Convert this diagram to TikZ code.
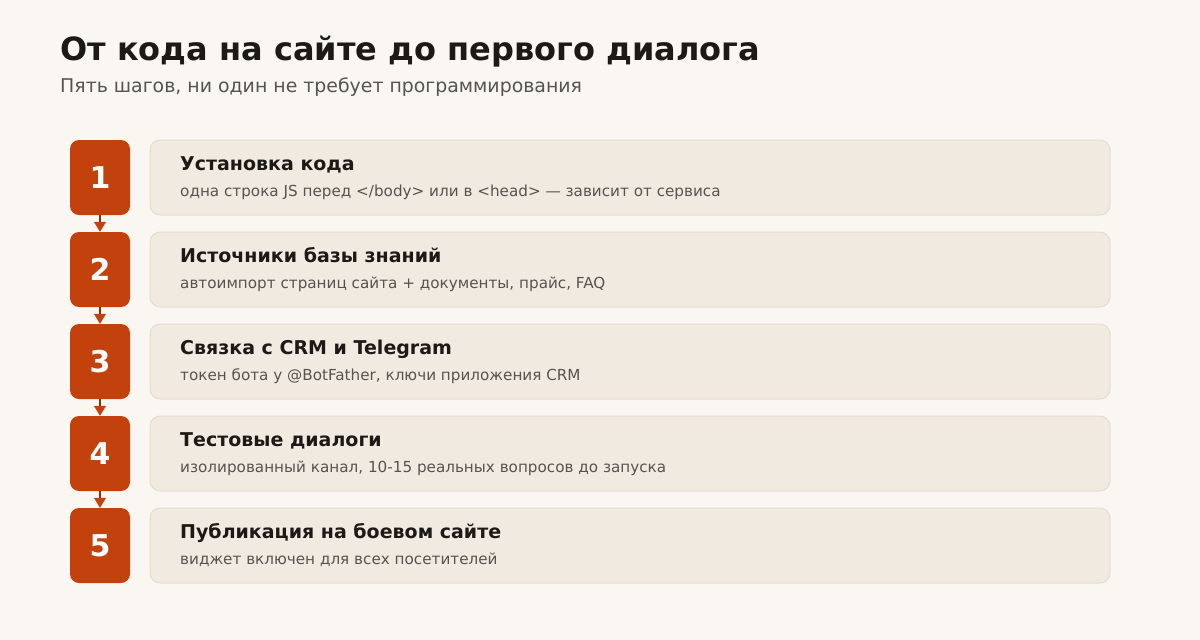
\documentclass[tikz,border=0pt]{standalone}
\usepackage{fontspec}
\setmainfont{DejaVu Sans}
\usetikzlibrary{arrows.meta, positioning}
\definecolor{pagebg}{HTML}{FAF7F2}
\definecolor{stepred}{HTML}{C2410C}
\definecolor{cardfill}{HTML}{F1EAE1}
\definecolor{cardline}{HTML}{E6DDD1}
\definecolor{inkdark}{HTML}{1C1917}
\definecolor{inkgrey}{HTML}{57534E}
\tikzset{
  numbox/.style={fill=stepred, rounded corners=9pt, minimum width=60pt, minimum height=75pt,
    inner sep=0pt, text=white, font=\fontsize{30}{34}\selectfont\bfseries},
  cardbox/.style={fill=cardfill, draw=cardline, line width=1pt, rounded corners=10pt,
    minimum width=960pt, minimum height=75pt, inner sep=0pt},
  cardhead/.style={anchor=base west, inner sep=0pt, text=inkdark, font=\fontsize{19}{22}\selectfont\bfseries},
  cardnote/.style={anchor=base west, inner sep=0pt, text=inkgrey, font=\fontsize{15.2}{18}\selectfont},
  flow/.style={draw=stepred!70!black, line width=1.2pt,
    -{Triangle[width=12pt, length=10pt, color=stepred, fill=stepred]}}
}

\begin{document}
\begin{tikzpicture}[x=1pt, y=-1pt]
\fill[pagebg] (0,0) rectangle (1200,640);
\useasboundingbox (0,0) rectangle (1200,640);

% header
\node[anchor=base west, inner sep=0pt, text=inkdark, font=\fontsize{32}{38}\selectfont\bfseries]
  (title) at (60,60) {От кода на сайте до первого диалога};
\node[anchor=base west, inner sep=0pt, text=inkgrey, font=\fontsize{18.9}{22}\selectfont]
  (subtitle) at (60,92) {Пять шагов, ни один не требует программирования};

% steps
\foreach \i/\head/\note in {
  1/{Установка кода}/{одна строка JS перед </body> или в <head> — зависит от сервиса},
  2/{Источники базы знаний}/{автоимпорт страниц сайта + документы, прайс, FAQ},
  3/{Связка с CRM и Telegram}/{токен бота у @BotFather, ключи приложения CRM},
  4/{Тестовые диалоги}/{изолированный канал, 10-15 реальных вопросов до запуска},
  5/{Публикация на боевом сайте}/{виджет включен для всех посетителей}} {
    \node[numbox] (num\i) at (100,{177.5+92*(\i-1)}) {\i};
    \node[cardbox] (card\i) at (630,{177.5+92*(\i-1)}) {};
    \node[cardhead] (head\i) at (180,{170+92*(\i-1)}) {\head};
    \node[cardnote] (note\i) at (180,{196+92*(\i-1)}) {\note};
}

% connectors
\foreach \i [evaluate=\i as \j using int(\i+1)] in {1,...,4} {
    \draw[flow] (num\i.south) -- (num\j.north);
}
\end{tikzpicture}
\end{document}
